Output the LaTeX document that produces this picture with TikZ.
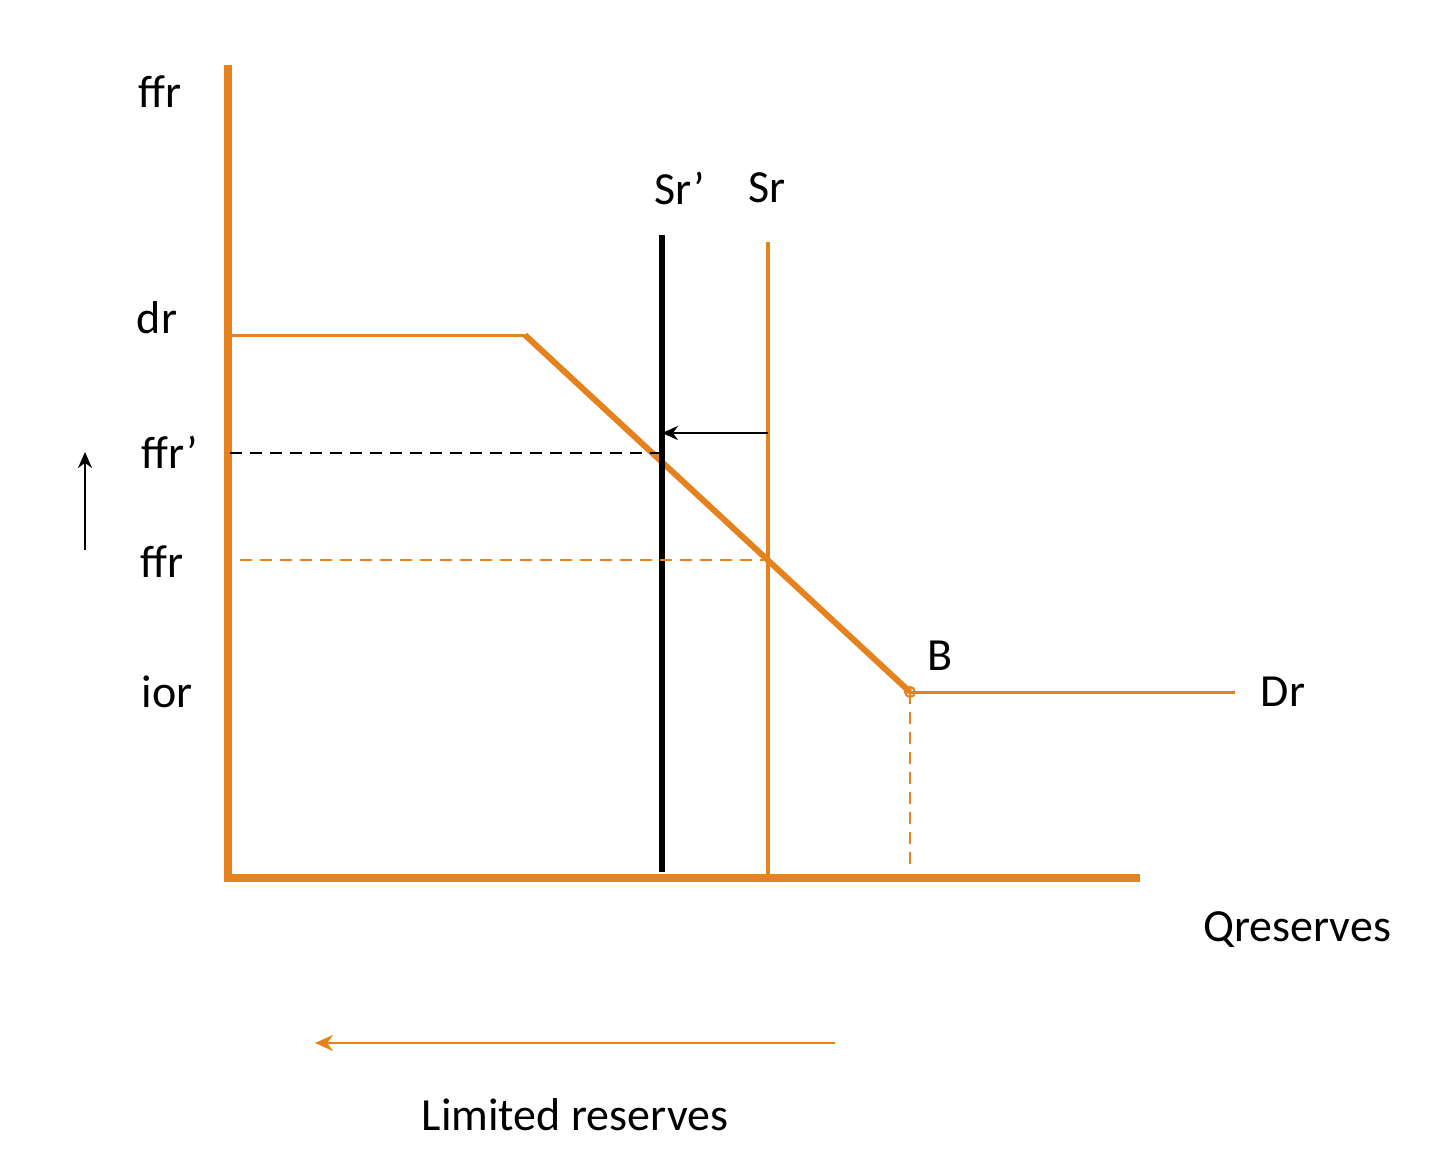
\documentclass[tikz,border=0pt]{standalone}
\usepackage{fontspec}
\setmainfont{Carlito}
\usetikzlibrary{arrows.meta}
\definecolor{org}{HTML}{E6821E}
\begin{document}
\begin{tikzpicture}[x=1pt,y=-1pt,
  lbl/.style={font=\fontsize{46}{50}\selectfont, inner sep=0pt},
  oline/.style={draw=org, line width=#1},
  oline/.default=3pt]
\useasboundingbox (0,0) rectangle (1440,1172);
% axes
\coordinate (ytop) at (228,65);
\coordinate (orig) at (228,878);
\coordinate (xend) at (1140,878);
\draw[oline=8pt] (ytop) -- (orig) -- (xend);
% demand
\coordinate (d0) at (232,335);
\coordinate (d1) at (525,335);
\coordinate (B) at (910,692);
\coordinate (d3) at (1235,692);
\draw[oline=3pt] (d0) -- (d1);
\draw[oline=6pt, line join=round] (d1) -- (B);
\draw[oline=3pt] (B) -- (d3);
\draw[org, line width=2pt] (B) circle (5);
% supplies
\coordinate (s1t) at (662,235); \coordinate (s1b) at (662,872);
\coordinate (s2t) at (768,242); \coordinate (s2b) at (768,875);
\draw[black, line width=6pt] (s1t) -- (s1b);
\draw[oline=4pt] (s2t) -- (s2b);
\coordinate (a0) at (768,433); \coordinate (a1) at (662,433);
\draw[-{Stealth[length=16pt,width=14pt]}, line width=2.5pt] (a0) -- (a1);
% dashed
\coordinate (h1a) at (230,453); \coordinate (h1b) at (662,453);
\draw[dashed, dash pattern=on 12pt off 8pt, line width=2.5pt] (h1a) -- (h1b);
\coordinate (h2a) at (240,560); \coordinate (h2b) at (768,560);
\draw[org, dash pattern=on 12pt off 8pt, line width=2.5pt] (h2a) -- (h2b);
\coordinate (vB) at (910,870);
\draw[org, dash pattern=on 12pt off 8pt, line width=2.5pt] (B) -- (vB);
% side arrows
\coordinate (u0) at (85,550); \coordinate (u1) at (85,452);
\draw[-{Stealth[length=16pt,width=14pt]}, line width=2.5pt] (u0) -- (u1);
\coordinate (l0) at (835,1043); \coordinate (l1) at (315,1043);
\draw[org, -{Stealth[length=18pt,width=16pt]}, line width=2.5pt] (l0) -- (l1);
% labels
\node[lbl] (t1) at (160,92) {ffr};
\node[lbl] (t2) at (680,188) {Sr’};
\node[lbl] (t3) at (767,188) {Sr};
\node[lbl] (t4) at (157,318) {dr};
\node[lbl] (t5) at (170,452) {ffr’};
\node[lbl] (t6) at (162,562) {ffr};
\node[lbl] (t7) at (167,692) {ior};
\node[lbl] (t8) at (940,656) {B};
\node[lbl] (t9) at (1283,692) {Dr};
\node[lbl] (t10) at (1297,930) {Qreserves};
\node[lbl] (t11) at (575,1115) {Limited reserves};
\end{tikzpicture}
\end{document}
